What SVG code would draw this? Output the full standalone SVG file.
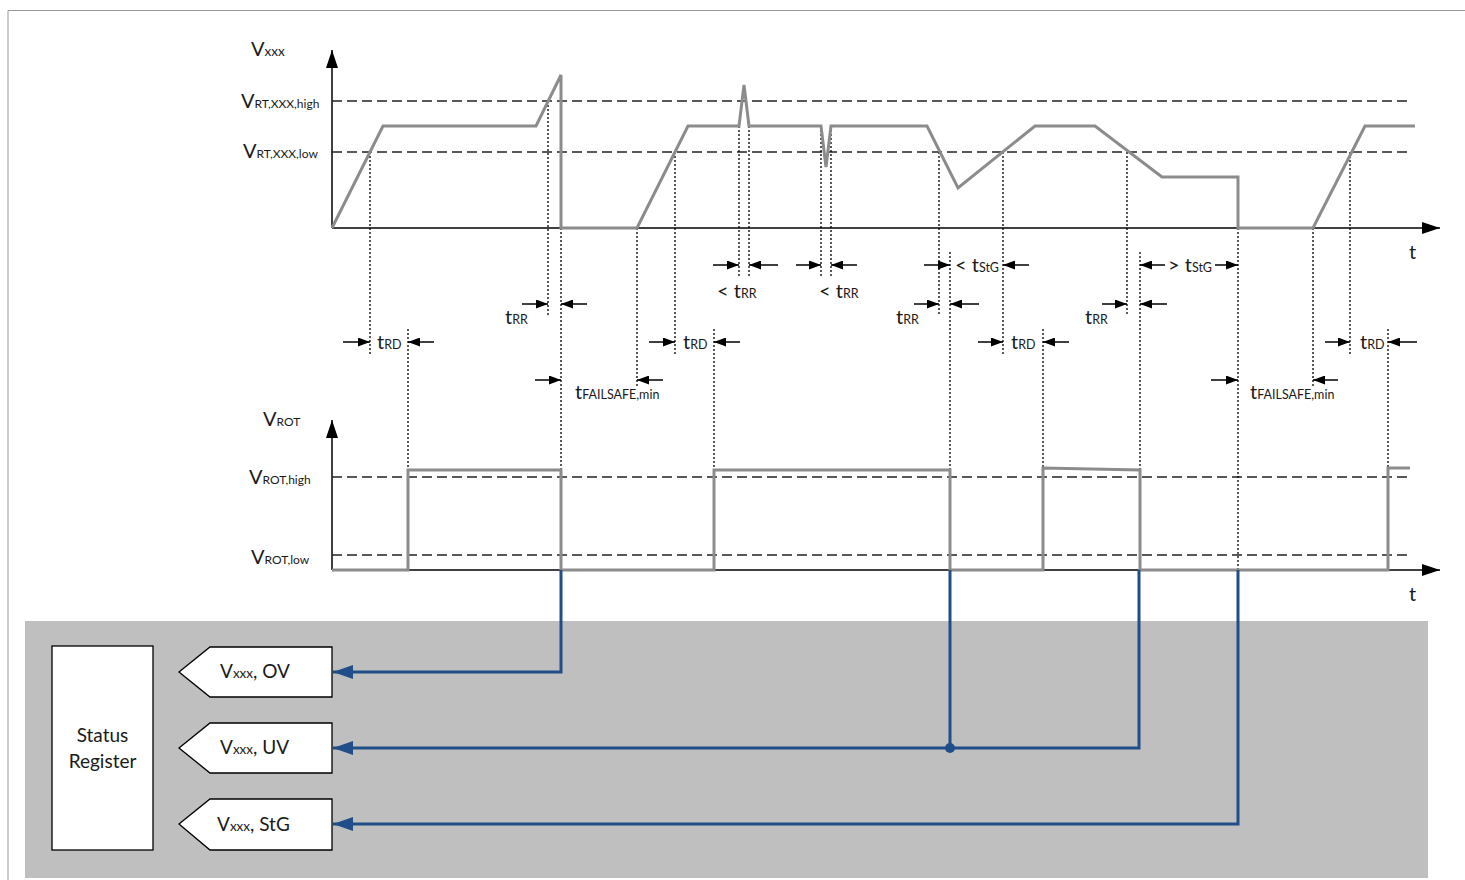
<svg xmlns="http://www.w3.org/2000/svg" width="1465" height="880" viewBox="0 0 1465 880">
<defs>
<marker id="ah" viewBox="0 0 12 9" refX="12" refY="4.5" markerWidth="12" markerHeight="9" markerUnits="userSpaceOnUse" orient="auto"><path d="M0,0 L12,4.5 L0,9 Z" fill="#000"/></marker>
<marker id="axh" viewBox="0 0 18 12" refX="18" refY="6" markerWidth="18" markerHeight="12" markerUnits="userSpaceOnUse" orient="auto"><path d="M0,0 L18,6 L0,12 Z" fill="#000"/></marker>
<marker id="bh" viewBox="0 0 20 14" refX="20" refY="7" markerWidth="20" markerHeight="14" markerUnits="userSpaceOnUse" orient="auto"><path d="M0,0 L20,7 L0,14 Z" fill="#1f4e89"/></marker>
<style>
.ax{stroke:#000;stroke-width:1.5;fill:none;marker-end:url(#axh)}
.dash{stroke:#222;stroke-width:1.6;stroke-dasharray:10 5;fill:none}
.dot{stroke:#000;stroke-width:1.3;stroke-dasharray:2 2;fill:none}
.wave{stroke:#8c8c8c;stroke-width:3;fill:none;stroke-linejoin:miter}
.dim{stroke:#000;stroke-width:1.5;marker-end:url(#ah)}
.blue{stroke:#1f4e89;stroke-width:3;fill:none}
.bluea{stroke:#1f4e89;stroke-width:3;fill:none;marker-end:url(#bh)}
.box{fill:#fff;stroke:#000;stroke-width:1.3}
text{font-family:Lato,"Open Sans",sans-serif;fill:#1a1a1a}
.m{font-size:20px}
.s{font-size:12.5px}
.vm{font-size:20px}
.vs{font-size:12px}
.bm{font-size:19px}
.bs{font-size:13.5px}
</style>
</defs>
<path d="M8,880 V10.5 H1465" stroke="#999" stroke-width="1" fill="none"/>
<rect x="25" y="621" width="1403" height="257" fill="#bfbfbf"/>

<g id="axes">
<path class="ax" d="M332,228 V50"/>
<path class="ax" d="M332,228 H1440"/>
<path class="ax" d="M332,570 V420"/>
<path class="ax" d="M332,570 H1440"/>
<path class="dash" d="M332,101 H1410 M332,152 H1410 M332,477 H1410 M332,555 H1410"/>
</g>

<g id="guides">
<path class="dot" d="M370,152 V355 M408,329 V470 M548,101 V316 M561,228 V570 M637,228 V388 M675,152 V355 M714,329 V470 M739,126 V277 M749,126 V277 M821,126 V277 M831,126 V277 M939,152 V316 M950,252 V470 M1003,152 V355 M1043,329 V468 M1127,152 V316 M1140,252 V470 M1238,228 V570 M1313,228 V388 M1350,152 V355 M1388,329 V468"/>
</g>

<g id="waveforms">
<path class="wave" d="M332,228 L383,126 H536 L561,75 V228 H637 L688,126 H739 L744,85 L749,126 H821 L826,167 L831,126 H927 L958,188 L1035,126 H1095 L1162,177 H1238 V228 H1313 L1365,126 H1415"/>
<path class="wave" d="M332,570 H408 V470 H561 V570 H714 V470 H950 V570 H1043 V468 L1140,470 V570 H1388 V468 H1410"/>
</g>

<g id="dimensions">
<line class="dim" x1="713" y1="265" x2="739" y2="265"/>
<line class="dim" x1="778" y1="265" x2="749" y2="265"/>
<line class="dim" x1="796" y1="265" x2="821" y2="265"/>
<line class="dim" x1="857" y1="265" x2="831" y2="265"/>
<line class="dim" x1="924" y1="265" x2="950" y2="265"/>
<line class="dim" x1="1029" y1="265" x2="1003" y2="265"/>
<line class="dim" x1="1165" y1="265" x2="1140" y2="265"/>
<line class="dim" x1="1215" y1="265" x2="1238" y2="265"/>
<line class="dim" x1="522" y1="304" x2="548" y2="304"/>
<line class="dim" x1="587" y1="304" x2="561" y2="304"/>
<line class="dim" x1="914" y1="304" x2="939" y2="304"/>
<line class="dim" x1="979" y1="304" x2="950" y2="304"/>
<line class="dim" x1="1102" y1="304" x2="1127" y2="304"/>
<line class="dim" x1="1167" y1="304" x2="1140" y2="304"/>
<line class="dim" x1="343" y1="342" x2="370" y2="342"/>
<line class="dim" x1="434" y1="342" x2="408" y2="342"/>
<line class="dim" x1="649" y1="342" x2="675" y2="342"/>
<line class="dim" x1="740" y1="342" x2="714" y2="342"/>
<line class="dim" x1="978" y1="342" x2="1003" y2="342"/>
<line class="dim" x1="1069" y1="342" x2="1043" y2="342"/>
<line class="dim" x1="1325" y1="342" x2="1350" y2="342"/>
<line class="dim" x1="1417" y1="342" x2="1388" y2="342"/>
<line class="dim" x1="535" y1="380" x2="561" y2="380"/>
<line class="dim" x1="663" y1="380" x2="637" y2="380"/>
<line class="dim" x1="1211" y1="380" x2="1238" y2="380"/>
<line class="dim" x1="1338" y1="380" x2="1313" y2="380"/>
</g>

<g id="labels">
<text x="251" y="56"><tspan class="vm">V</tspan><tspan font-size="13.5px">xxx</tspan></text>
<text x="241" y="108"><tspan class="vm">V</tspan><tspan class="vs">RT,XXX,high</tspan></text>
<text x="243" y="158"><tspan class="vm">V</tspan><tspan class="vs">RT,XXX,low</tspan></text>
<text x="1409" y="259" class="m">t</text>
<text x="263" y="426"><tspan class="vm">V</tspan><tspan class="vs">ROT</tspan></text>
<text x="249" y="484"><tspan class="vm">V</tspan><tspan class="vs">ROT,high</tspan></text>
<text x="251" y="564"><tspan class="vm">V</tspan><tspan class="vs">ROT,low</tspan></text>
<text x="1409" y="601" class="m">t</text>

<text x="377" y="349"><tspan class="m">t</tspan><tspan class="s">RD</tspan></text>
<text x="683" y="349"><tspan class="m">t</tspan><tspan class="s">RD</tspan></text>
<text x="1011" y="349"><tspan class="m">t</tspan><tspan class="s">RD</tspan></text>
<text x="1360" y="349"><tspan class="m">t</tspan><tspan class="s">RD</tspan></text>
<text x="505" y="324"><tspan class="m">t</tspan><tspan class="s">RR</tspan></text>
<text x="896" y="324"><tspan class="m">t</tspan><tspan class="s">RR</tspan></text>
<text x="1085" y="324"><tspan class="m">t</tspan><tspan class="s">RR</tspan></text>
<text x="717" y="298"><tspan class="m">&lt; t</tspan><tspan class="s">RR</tspan></text>
<text x="819" y="298"><tspan class="m">&lt; t</tspan><tspan class="s">RR</tspan></text>
<text x="955" y="272"><tspan class="m">&lt; t</tspan><tspan class="s">StG</tspan></text>
<text x="1168" y="272"><tspan class="m">&gt; t</tspan><tspan class="s">StG</tspan></text>
<text x="575" y="399"><tspan class="m">t</tspan><tspan class="s">FAILSAFE,min</tspan></text>
<text x="1250" y="399"><tspan class="m">t</tspan><tspan class="s">FAILSAFE,min</tspan></text>
</g>

<g id="status-register">
<rect class="box" x="52" y="646" width="101" height="204"/>
<text x="102.5" y="742" text-anchor="middle" font-size="19">Status</text>
<text x="102.5" y="768" text-anchor="middle" font-size="19">Register</text>
</g>
<g id="flag-ov">
<path class="box" d="M179,672 L210,647 H332 V697 H210 Z"/>
<text x="220" y="678"><tspan class="bm">V</tspan><tspan class="bs">xxx</tspan><tspan class="bm">, OV</tspan></text>
</g>
<g id="flag-uv">
<path class="box" d="M179,748 L210,723 H332 V773 H210 Z"/>
<text x="220" y="754"><tspan class="bm">V</tspan><tspan class="bs">xxx</tspan><tspan class="bm">, UV</tspan></text>
</g>
<g id="flag-stg">
<path class="box" d="M179,824 L210,799 H332 V850 H210 Z"/>
<text x="217" y="831"><tspan class="bm">V</tspan><tspan class="bs">xxx</tspan><tspan class="bm">, StG</tspan></text>
</g>

<g id="connectors">
<path class="bluea" d="M561,570 V672 H333"/>
<path class="blue" d="M950,570 V748"/>
<path class="bluea" d="M1139,570 V748 H333"/>
<path class="bluea" d="M1238,570 V824 H333"/>
<circle cx="950" cy="748" r="5" fill="#1f4e89"/>
</g>
</svg>
